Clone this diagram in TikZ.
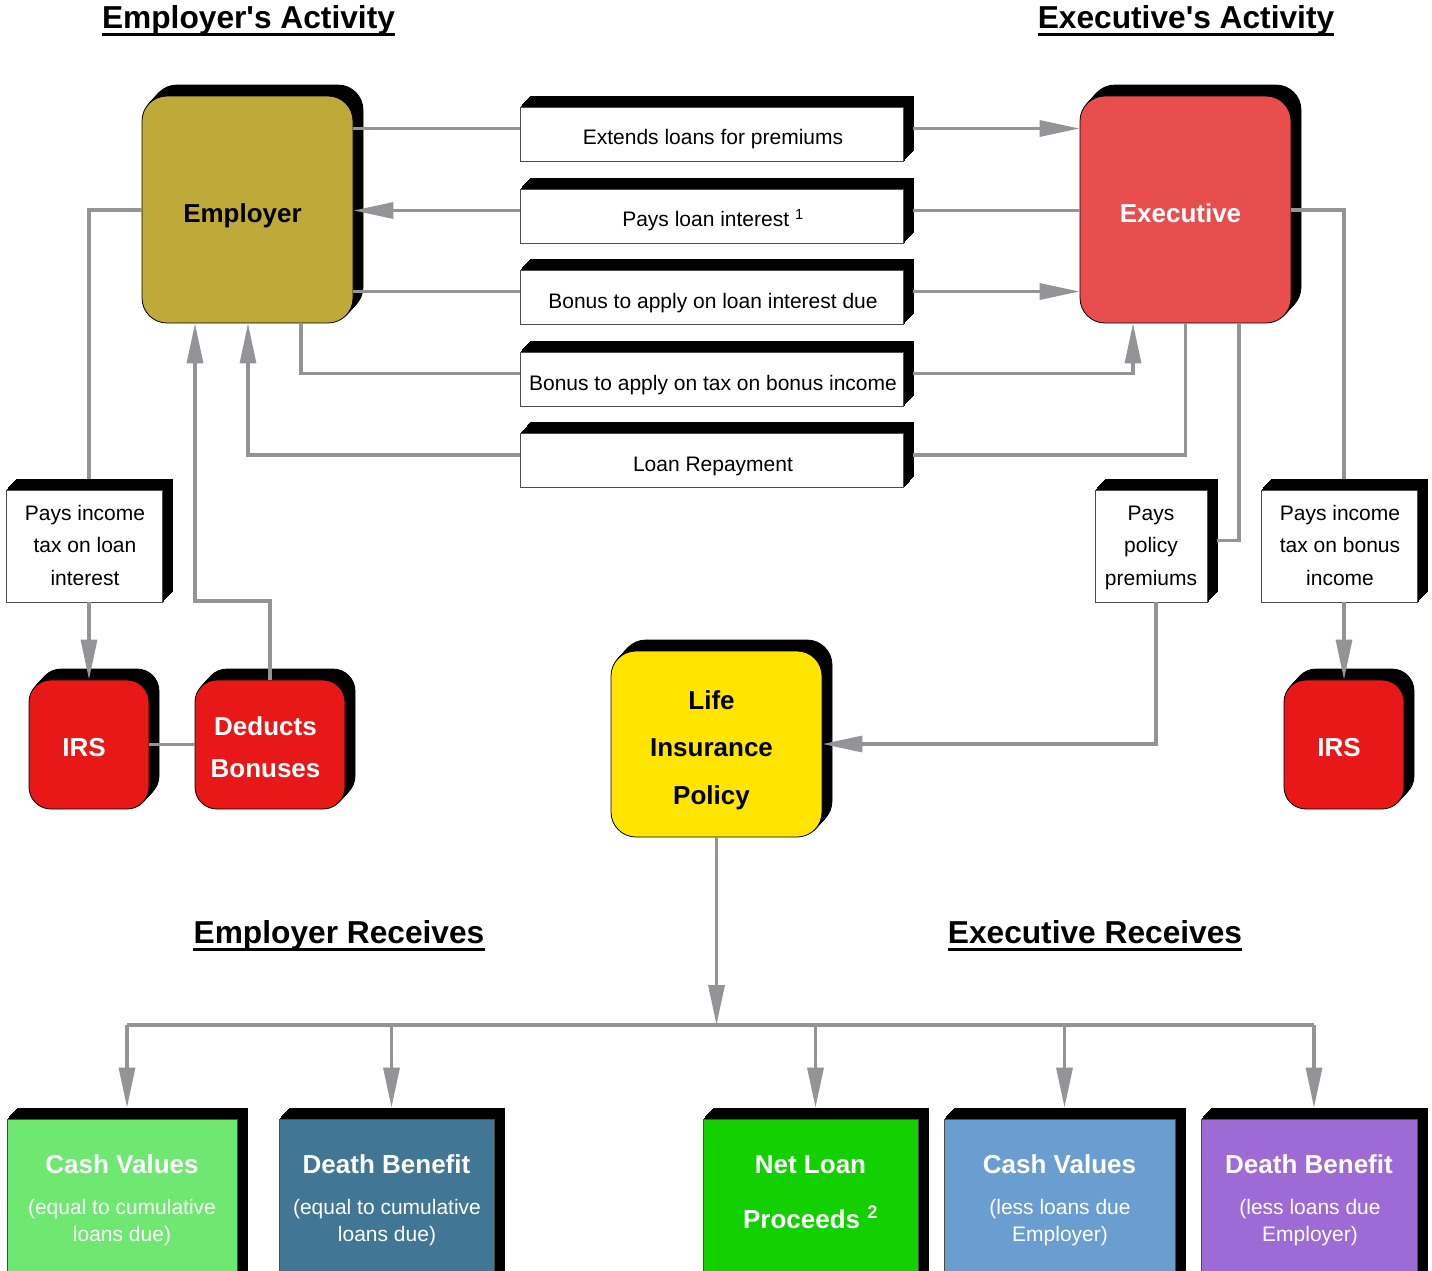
\documentclass[tikz,border=0pt]{standalone}
\usepackage{fontspec}
\setmainfont{Liberation Sans}
\newfontfamily\arialq{Liberation Sans}
\usetikzlibrary{arrows.meta}
\definecolor{linec}{RGB}{147,147,152}
\definecolor{empc}{RGB}{190,170,56}
\definecolor{exeC}{RGB}{232,78,78}
\definecolor{irsc}{RGB}{232,24,24}
\definecolor{lifec}{RGB}{255,229,0}
\definecolor{cvgc}{RGB}{110,232,112}
\definecolor{dbbc}{RGB}{65,119,148}
\definecolor{nlc}{RGB}{19,209,0}
\definecolor{cvbc}{RGB}{106,158,208}
\definecolor{dbpc}{RGB}{158,106,214}
\tikzset{
 ext/.style={
  preaction={fill=black,draw=black,transform canvas={xshift=1pt,yshift=1.1pt}},
  preaction={fill=black,draw=black,transform canvas={xshift=2pt,yshift=2.2pt}},
  preaction={fill=black,draw=black,transform canvas={xshift=3pt,yshift=3.3pt}},
  preaction={fill=black,draw=black,transform canvas={xshift=4pt,yshift=4.4pt}},
  preaction={fill=black,draw=black,transform canvas={xshift=5pt,yshift=5.5pt}},
  preaction={fill=black,draw=black,transform canvas={xshift=6pt,yshift=6.6pt}},
  preaction={fill=black,draw=black,transform canvas={xshift=7pt,yshift=7.7pt}},
  preaction={fill=black,draw=black,transform canvas={xshift=8pt,yshift=8.8pt}},
  preaction={fill=black,draw=black,transform canvas={xshift=9pt,yshift=9.9pt}},
  preaction={fill=black,draw=black,transform canvas={xshift=10pt,yshift=11pt}}},
 rndbox/.style={ext,draw=black,line width=0.8pt,rounded corners=#1,inner sep=0pt},
 rndbox/.default=25pt,
 sqbox/.style={ext,draw=black!70,fill=white,line width=0.8pt,inner sep=0pt},
 colbox/.style={ext,draw=black!70,line width=0.8pt,inner sep=0pt},
 conn/.style={draw=linec,line width=3.2pt},
 arr/.style={conn,-{Triangle[length=40pt,width=16pt]}},
 ttl/.style={font=\bfseries\fontsize{31.7}{38}\selectfont,inner sep=0pt,anchor=base},
 lbl/.style={font=\fontsize{21}{25}\selectfont,inner sep=0pt,anchor=base},
 ml/.style={font=\fontsize{21}{32.2}\selectfont,inner sep=0pt,align=center},
 bigb/.style={font=\bfseries\fontsize{26}{31}\selectfont,inner sep=0pt,anchor=base},
 sub/.style={font=\fontsize{21}{27.7}\selectfont,inner sep=0pt,align=center,text=white},
}
\begin{document}
\begin{tikzpicture}[x=1pt,y=-1pt]
\useasboundingbox (0,0) rectangle (1432,1270);
\clip (0,0) rectangle (1432,1270);
\fill[white] (0,0) rectangle (1432,1270);
% titles
\node[ttl] (t1) at (248.5,28) {Employer{\arialq'}s Activity};
\node[ttl] (t2) at (1186,28) {Executive{\arialq'}s Activity};
\node[ttl] (t3) at (339,943) {Employer Receives};
\node[ttl] (t4) at (1095,943) {Executive Receives};
\foreach \t in {t1,t2,t3,t4}
  \draw[line width=3pt] ([yshift=-6.5pt]\t.base west) -- ([yshift=-6.5pt]\t.base east);
% main boxes
\node[rndbox,fill=empc,minimum width=211pt,minimum height=227pt] (emp) at (247.5,209.5) {};
\node[rndbox,fill=exeC,minimum width=211pt,minimum height=227pt] (exe) at (1185.5,209.5) {};
\node[sqbox,minimum width=383pt,minimum height=54pt] (b1) at (711.5,134) {};
\node[sqbox,minimum width=383pt,minimum height=54pt] (b2) at (711.5,216) {};
\node[sqbox,minimum width=383pt,minimum height=54pt] (b3) at (711.5,297) {};
\node[sqbox,minimum width=383pt,minimum height=54pt] (b4) at (711.5,379) {};
\node[sqbox,minimum width=383pt,minimum height=54pt] (b5) at (711.5,460.5) {};
\node[sqbox,minimum width=156pt,minimum height=112pt] (tbL) at (84,546) {};
\node[sqbox,minimum width=112pt,minimum height=112pt] (pbox) at (1151,546) {};
\node[sqbox,minimum width=156pt,minimum height=112pt] (tbR) at (1339,546) {};
\node[rndbox=22pt,fill=irsc,minimum width=120pt,minimum height=129pt] (irsL) at (89,744.5) {};
\node[rndbox=22pt,fill=irsc,minimum width=150pt,minimum height=129pt] (ded) at (270,744.5) {};
\node[rndbox=22pt,fill=irsc,minimum width=120pt,minimum height=129pt] (irsR) at (1344,744.5) {};
\node[rndbox,fill=lifec,minimum width=211pt,minimum height=186pt] (life) at (716.5,744) {};
\node[colbox,fill=cvgc,minimum width=230pt,minimum height=181pt] (cvE) at (122,1209.5) {};
\node[colbox,fill=dbbc,minimum width=215pt,minimum height=181pt] (dbE) at (386.5,1209.5) {};
\node[colbox,fill=nlc,minimum width=215pt,minimum height=181pt] (nl) at (810.5,1209.5) {};
\node[colbox,fill=cvbc,minimum width=231pt,minimum height=181pt] (cvX) at (1059.5,1209.5) {};
\node[colbox,fill=dbpc,minimum width=216pt,minimum height=181pt] (dbX) at (1309,1209.5) {};
% attach points
\foreach \b in {b1,b2,b3,b4,b5}{
  \coordinate (\b L) at ([yshift=5.5pt]\b.west);
  \coordinate (\b R) at ([shift={(10pt,5.5pt)}]\b.east);
}
\coordinate (tbLtop) at ([shift={(5pt,11pt)}]tbL.north);
\coordinate (tbRtop) at ([shift={(5pt,11pt)}]tbR.north);
\coordinate (pbR) at ([shift={(10pt,5.5pt)}]pbox.east);
\coordinate (pbB) at ([xshift=5pt]pbox.south);
\coordinate (d1) at ([shift={(5pt,11pt)}]cvE.north);
\coordinate (d2) at ([shift={(5pt,11pt)}]dbE.north);
\coordinate (d3) at ([shift={(5pt,11pt)}]nl.north);
\coordinate (d4) at ([shift={(5pt,11pt)}]cvX.north);
\coordinate (d5) at ([shift={(5pt,11pt)}]dbX.north);
% connectors
\draw[conn] (emp.east |- b1L) -- (b1L);
\draw[arr] (b1R) -- (exe.west |- b1R);
\draw[conn] (b2R) -- (exe.west |- b2R);
\draw[arr] (b2L) -- (emp.east |- b2L);
\draw[conn] (emp.east |- b3L) -- (b3L);
\draw[arr] (b3R) -- (exe.west |- b3R);
\draw[conn] (emp.south -| 301,0) |- (b4L);
\draw[arr] (b4R) -| (exe.south -| 1133,0);
\draw[conn] (exe.south) |- (b5R);
\draw[arr] (b5L) -| (emp.south -| 248,0);
\draw[conn] (emp.west |- 0,210) -| (tbLtop);
\draw[arr] (irsL.north |- tbL.south) -- (irsL.north);
\draw[conn] (irsL.east) -- (ded.west);
\draw[arr] (ded.north) -- (ded.north |- 0,601) -| (emp.south -| 195,0);
\draw[conn] (exe.east |- 0,210) -| (tbRtop);
\draw[arr] (irsR.north |- tbR.south) -- (irsR.north);
\draw[conn] (exe.south -| 1239,0) |- (pbR);
\draw[arr] (pbB) |- (life.east);
\draw[arr] (life.south) -- (life.south |- 0,1025);
\draw[conn] (d1 |- 0,1025) -- (d5 |- 0,1025);
\foreach \d in {d1,d2,d3,d4,d5}
  \draw[arr] (\d |- 0,1025) -- (\d);
% texts
\node[bigb] (empT) at (242.5,222) {Employer};
\node[bigb,text=white] (exeT) at (1180.5,222) {Executive};
\node[lbl] (b1T) at (713,144.5) {Extends loans for premiums};
\node[lbl] (b2T) at (713,226.7) {Pays loan interest \textsuperscript{1}};
\node[lbl] (b3T) at (713,308.3) {Bonus to apply on loan interest due};
\node[lbl] (b4T) at (713,390) {Bonus to apply on tax on bonus income};
\node[lbl] (b5T) at (713,471) {Loan Repayment};
\node[ml] (tbLT) at (85,546.4) {\strut Pays income\\tax on loan\\interest\strut};
\node[ml] (pboxT) at (1151,546.4) {\strut Pays\\policy\\premiums\strut};
\node[ml] (tbRT) at (1340,546.4) {\strut Pays income\\tax on bonus\\income\strut};
\node[bigb,text=white] (irsLT) at (84,756.5) {IRS};
\node[bigb,text=white] (irsRT) at (1339,756.5) {IRS};
\node[font=\bfseries\fontsize{26}{42.5}\selectfont,align=center,inner sep=0pt,text=white] (dedT) at (265.5,747.8) {\strut Deducts\\Bonuses\strut};
\node[font=\bfseries\fontsize{26}{47.5}\selectfont,align=center,inner sep=0pt] (lifeT) at (711.5,747.3) {\strut Life\\Insurance\\Policy\strut};
\node[bigb,text=white] (cvET) at (122,1173) {Cash Values};
\node[bigb,text=white] (dbET) at (386.5,1173) {Death Benefit};
\node[bigb,text=white] (cvXT) at (1059.5,1173) {Cash Values};
\node[bigb,text=white] (dbXT) at (1309,1173) {Death Benefit};
\node[font=\bfseries\fontsize{26}{55}\selectfont,align=center,inner sep=0pt,text=white] (nlT) at (810.5,1189.5) {\strut Net Loan\\Proceeds \textsuperscript{2}\strut};
\node[sub] (cvES) at (122,1222.3) {\strut(equal to cumulative\\loans due)\strut};
\node[sub] (dbES) at (387,1222.3) {\strut(equal to cumulative\\loans due)\strut};
\node[sub] (cvXS) at (1060,1222.3) {\strut(less loans due\\Employer)\strut};
\node[sub] (dbXS) at (1310,1222.3) {\strut(less loans due\\Employer)\strut};
\end{tikzpicture}
\end{document}
